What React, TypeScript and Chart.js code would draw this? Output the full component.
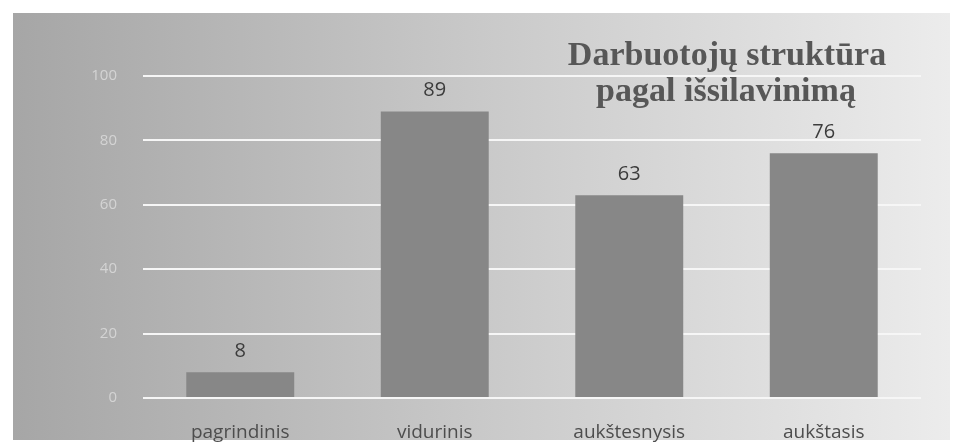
import React, { useEffect, useRef } from "react";
import { Chart, registerables } from "chart.js";

Chart.register(...registerables);

const categories = ["pagrindinis", "vidurinis", "aukštesnysis", "aukštasis"];
const values = [8, 89, 63, 76];
const yMin = 0;
const yMax = 100;
const yStep = 20;
const titleLines = ["Darbuotojų struktūra", "pagal išsilavinimą"];

const backgroundPlugin = {
  id: "bgPanel",
  beforeDraw(chart: any) {
    const { ctx, width, height } = chart;
    ctx.save();
    ctx.fillStyle = "#ffffff";
    ctx.fillRect(0, 0, width, height);
    const g = ctx.createLinearGradient(13, 0, 950, 0);
    g.addColorStop(0, "#a6a6a6");
    g.addColorStop(0.5, "#c9c9c9");
    g.addColorStop(1, "#ececec");
    ctx.fillStyle = g;
    ctx.fillRect(13, 13, 937, 427);
    ctx.restore();
  },
};

const valueLabelPlugin = {
  id: "valueLabels",
  afterDatasetsDraw(chart: any) {
    const { ctx } = chart;
    const meta = chart.getDatasetMeta(0);
    ctx.save();
    ctx.font = "20px 'Open Sans'";
    ctx.fillStyle = "#3c3c3c";
    ctx.textAlign = "center";
    ctx.textBaseline = "middle";
    meta.data.forEach((bar: any, i: number) => {
      ctx.fillText(String(values[i]), bar.x, bar.y - 21);
    });
    ctx.restore();
  },
};

const titlePlugin = {
  id: "overlayTitle",
  afterDraw(chart: any) {
    const { ctx } = chart;
    ctx.save();
    ctx.font = "bold 34px 'Liberation Serif'";
    ctx.fillStyle = "#575757";
    ctx.textAlign = "center";
    ctx.textBaseline = "alphabetic";
    ctx.fillText(titleLines[0], 727, 65);
    ctx.fillText(titleLines[1], 726, 101);
    ctx.restore();
  },
};

export default function App() {
  const ref = useRef<HTMLCanvasElement | null>(null);

  useEffect(() => {
    document.body.style.margin = "0";
    if (!ref.current) return;
    const chart = new Chart(ref.current, {
      type: "bar",
      data: {
        labels: categories,
        datasets: [
          {
            data: values,
            backgroundColor: "#878787",
            borderWidth: 0,
            categoryPercentage: 1,
            barPercentage: 0.555,
          },
        ],
      },
      options: {
        responsive: false,
        animation: false,
        devicePixelRatio: 1,
        layout: { padding: { top: 76, right: 33, left: 0, bottom: 0 } },
        plugins: {
          legend: { display: false },
          title: { display: false },
          tooltip: { enabled: false },
        },
        scales: {
          x: {
            grid: { display: false, drawTicks: false },
            border: { display: false },
            ticks: {
              font: { family: "'Open Sans'", size: 19 },
              color: "#4d4d4d",
              padding: 23,
            },
            afterFit(scale: any) {
              scale.height = 47;
            },
          },
          y: {
            min: yMin,
            max: yMax,
            grid: { color: "#f6f6f6", lineWidth: 2, drawTicks: false },
            border: { display: false },
            ticks: {
              stepSize: yStep,
              font: { family: "'Open Sans'", size: 15 },
              color: "#d4d4d4",
              padding: 26,
            },
            afterFit(scale: any) {
              scale.width = 143;
            },
          },
        },
      },
      plugins: [backgroundPlugin, valueLabelPlugin, titlePlugin],
    });
    return () => chart.destroy();
  }, []);

  return (
    <div style={{ width: 954, height: 445 }}>
      <canvas ref={ref} width={954} height={445} style={{ display: "block" }} />
    </div>
  );
}
